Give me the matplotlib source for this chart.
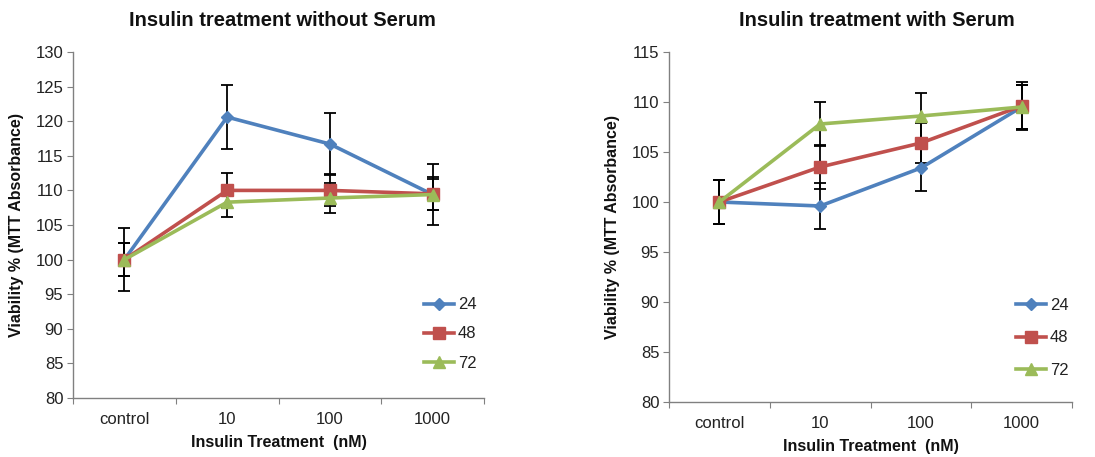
import matplotlib
matplotlib.use("Agg")
import matplotlib.pyplot as plt
import numpy as np

plt.rcParams['font.family'] = ['Liberation Sans', 'DejaVu Sans']

categories = ["control", "10", "100", "1000"]
series = ["24", "48", "72"]

# Left: without serum
noserum_24 = [100.0, 120.6, 116.7, 109.4]
noserum_48 = [100.0, 110.0, 110.0, 109.5]
noserum_72 = [100.0, 108.3, 108.9, 109.4]
noserum_err_24 = [4.6, 4.6, 4.5, 4.4]
noserum_err_48 = [2.4, 2.5, 2.3, 2.4]
noserum_err_72 = [2.4, 2.1, 2.1, 2.3]

# Right: with serum
serum_24 = [100.0, 99.6, 103.4, 109.5]
serum_48 = [100.0, 103.5, 105.9, 109.6]
serum_72 = [100.0, 107.8, 108.6, 109.5]
serum_err_24 = [2.2, 2.3, 2.3, 2.2]
serum_err_48 = [2.2, 2.2, 2.0, 2.4]
serum_err_72 = [2.2, 2.2, 2.3, 2.2]

colors = ["#4F81BD", "#C0504D", "#9BBB59"]
markers = ["D", "s", "^"]
msizes = [6, 9, 8]

fig = plt.figure(figsize=(10.95, 4.57), dpi=100)
axL = fig.add_axes([73/1095, 1-398/457, 411/1095, 346/457])
axR = fig.add_axes([669/1095, 1-402/457, 403/1095, 350/457])

def draw(ax, vals, errs, ylim, yticks, title, title_x, xlab_y, ylab_x, leg_anchor, lspace):
    x = np.arange(len(categories))
    handles = []
    for v, e, c, m, ms, s in zip(vals, errs, colors, markers, msizes, series):
        ax.errorbar(x, v, yerr=e, fmt='none', ecolor='black', elinewidth=1.3,
                    capsize=4, capthick=1.3, zorder=2)
        h, = ax.plot(x, v, color=c, marker=m, markersize=ms, linewidth=2.6,
                     label=s, zorder=3)
        handles.append(h)
    ax.set_xlim(-0.5, len(categories) - 0.5)
    ax.set_ylim(*ylim)
    ax.set_yticks(yticks)
    ax.set_xticks(np.arange(len(categories) + 1) - 0.5)
    ax.set_xticklabels([])
    ax.set_xticks(x, minor=True)
    ax.set_xticklabels(categories, minor=True)
    ax.tick_params(axis='x', which='major', length=4, direction='out', color='#808080')
    ax.tick_params(axis='x', which='minor', length=0, pad=10, labelsize=12,
                   labelcolor='#222222')
    ax.tick_params(axis='y', length=4, direction='out', color='#808080',
                   labelsize=12, labelcolor='#222222', pad=3)
    for sp in ['top', 'right']:
        ax.spines[sp].set_visible(False)
    for sp in ['left', 'bottom']:
        ax.spines[sp].set_color('#808080')
        ax.spines[sp].set_linewidth(1.0)
    fig.text(title_x / 1095, 1 - 20 / 457, title, ha='center', va='center',
             fontsize=14.5, fontweight='bold', color='#111111')
    fig.text(ax.get_position().x0 + ax.get_position().width / 2, 1 - xlab_y / 457,
             "Insulin Treatment  (nM)", ha='center', va='center', fontsize=11.5,
             fontweight='bold', color='#111111')
    fig.text(ylab_x / 1095, ax.get_position().y0 + ax.get_position().height / 2,
             "Viability % (MTT Absorbance)", ha='center', va='center', rotation=90,
             fontsize=11.5, fontweight='bold', color='#111111')
    leg = ax.legend(handles=handles, loc='center left',
                    bbox_to_anchor=(leg_anchor[0] / 1095, 1 - leg_anchor[1] / 457),
                    bbox_transform=fig.transFigure, frameon=False,
                    handlelength=1.8, labelspacing=lspace, handletextpad=0.2,
                    fontsize=12, borderpad=0)
    for t in leg.get_texts():
        t.set_color('#222222')

draw(axL, [noserum_24, noserum_48, noserum_72],
     [noserum_err_24, noserum_err_48, noserum_err_72],
     (80, 130), np.arange(80, 131, 5), "Insulin treatment without Serum",
     282, 442, 17, (416, 334), 0.85)
draw(axR, [serum_24, serum_48, serum_72],
     [serum_err_24, serum_err_48, serum_err_72],
     (80, 115), np.arange(80, 116, 5), "Insulin treatment with Serum",
     877, 447, 613, (1008, 338), 1.05)

fig.savefig("out.png", dpi=100)
